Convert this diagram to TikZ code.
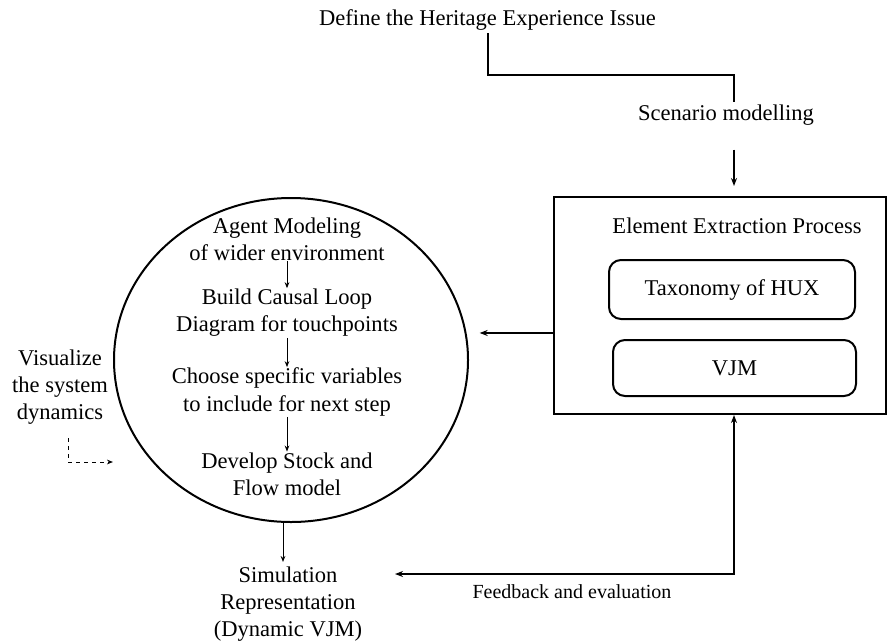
\documentclass[tikz,border=0pt]{standalone}
\usepackage{fontspec}
\setmainfont{Liberation Serif}
\usetikzlibrary{arrows.meta,shapes.geometric}
\tikzset{
    txt/.style={align=center, inner sep=2pt, font=\fontsize{16.9}{20.4}\selectfont},
    step text/.style={txt, inner sep=0.5pt},
    small/.style={align=center, inner sep=2pt, font=\fontsize{15}{18}\selectfont},
    thick line/.style={line width=1.5pt},
    thin line/.style={line width=0.75pt},
    rbox/.style={draw, thick line, rounded corners=9pt, txt},
    >={Stealth[length=6pt,width=4.5pt]}
}
\begin{document}
\begin{tikzpicture}[x=0.75pt, y=-0.75pt]
    \useasboundingbox (0,0) rectangle (888,643);
    % top of the chart
    \node[txt] (define) at (487.5, 20) {Define the Heritage Experience Issue};
    \node[txt] (scenario) at (726, 115) {Scenario modelling};
    \coordinate (k1) at (734, 75);
    \draw[thick line] (define.south) |- (k1) -- (scenario.north -| k1);
    % element extraction box
    \node[draw, thick line, minimum width=249pt, minimum height=162.75pt] (eep) at (720, 305.5) {};
    \node[txt] (title) at (737, 226) {Element Extraction Process};
    \node[rbox, minimum width=184.5pt, minimum height=44.25pt] (tax) at (732, 289.5) {Taxonomy of HUX};
    \node[rbox, minimum width=182.25pt, minimum height=42pt] (vjm) at (734.5, 368) {VJM};
    \draw[thick line, ->, shorten <=16pt, shorten >=7.5pt] (scenario.south -| k1) -- (eep.north -| k1);
    % system dynamics circle
    \node[draw, thick line, ellipse, minimum width=265.5pt, minimum height=243pt] (sd) at (291, 360) {};
    \node[step text] (agent) at (287, 239) {Agent Modeling\\of wider environment};
    \node[step text] (causal) at (287, 313) {Build Causal Loop\\Diagram for touchpoints};
    \node[step text] (choose) at (287, 392) {Choose specific variables\\to include for next step};
    \node[step text] (stock) at (287, 474) {Develop Stock and\\Flow model};
    \draw[thin line, ->, >={Stealth[length=4.5pt,width=3.5pt]}] (agent) -- (causal);
    \draw[thin line, ->, >={Stealth[length=4.5pt,width=3.5pt]}] (causal) -- (choose);
    \draw[thin line, ->, >={Stealth[length=4.5pt,width=3.5pt]}] (choose) -- (stock);
    \draw[thick line, ->, shorten >=8pt] ([yshift=-20.6pt]eep.west) -- ([yshift=-20.6pt]eep.west -| sd.east);
    % left side
    \node[txt] (vis) at (60, 387) {Visualize\\the system\\dynamics};
    \coordinate (v2) at (113, 462);
    \draw[thin line, dashed, ->, >={Stealth[length=4.5pt,width=3.5pt]}] ([xshift=6pt, yshift=-8pt]vis.south) |- (v2);
    % bottom
    \node[txt] (sim) at (288, 604) {Simulation\\Representation\\(Dynamic VJM)};
    \draw[thin line, ->, >={Stealth[length=4.5pt,width=3.5pt]}] (sd.south -| 283, 0) -- (283, 562);
    \coordinate (fb) at (734, 574);
    \coordinate (fbend) at (395, 574);
    \draw[thick line, <->] (eep.south -| fb) -- (fb) -- (fbend);
    \node[small] (feedback) at (572, 592) {Feedback and evaluation};
\end{tikzpicture}
\end{document}
